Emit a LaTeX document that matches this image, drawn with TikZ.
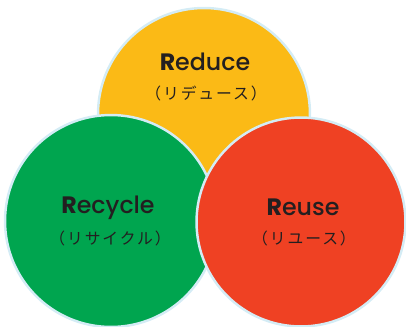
\documentclass[tikz,border=0pt]{standalone}
\usepackage{fontspec}
\setmainfont{Poppins Medium}[BoldFont=Poppins Bold]
\newfontfamily\jpfont[LetterSpace=12]{Noto Sans CJK JP}
\definecolor{rdyellow}{HTML}{FBBA16}
\definecolor{rcgreen}{HTML}{00A54F}
\definecolor{rured}{HTML}{EF4123}
\definecolor{rimblue}{HTML}{D4ECF5}
\definecolor{inkgray}{HTML}{231F20}

\begin{document}
\begin{tikzpicture}[x=0.02cm,y=-0.02cm]
  \tikzset{disk/.style={circle,draw=rimblue,line width=1.4pt,inner sep=0pt},
           title/.style={text=inkgray,font=\fontsize{13.5}{15}\selectfont},
           kana/.style={text=inkgray,font=\jpfont\fontsize{9}{10}\selectfont}}
  \useasboundingbox (0,0) rectangle (406,327);
  \node[disk,fill=rdyellow,minimum size=4.24cm] (reduce) at (204, 114) {};
  \node[disk,fill=rcgreen,minimum size=4.24cm] (recycle) at (111, 221) {};
  \node[disk,fill=rured,minimum size=4.18cm] (reuse) at (301, 222) {};
  \node[title] (reduce t) at (205, 62) {{\bfseries R}educe};
  \node[kana] (reduce k) at (206, 93) {（リデュース）};
  \node[title] (recycle t) at (108, 208) {{\bfseries R}ecycle};
  \node[kana] (recycle k) at (110, 238) {（リサイクル）};
  \node[title] (reuse t) at (303, 207) {{\bfseries R}euse};
  \node[kana] (reuse k) at (304, 238) {（リユース）};
\end{tikzpicture}
\end{document}
